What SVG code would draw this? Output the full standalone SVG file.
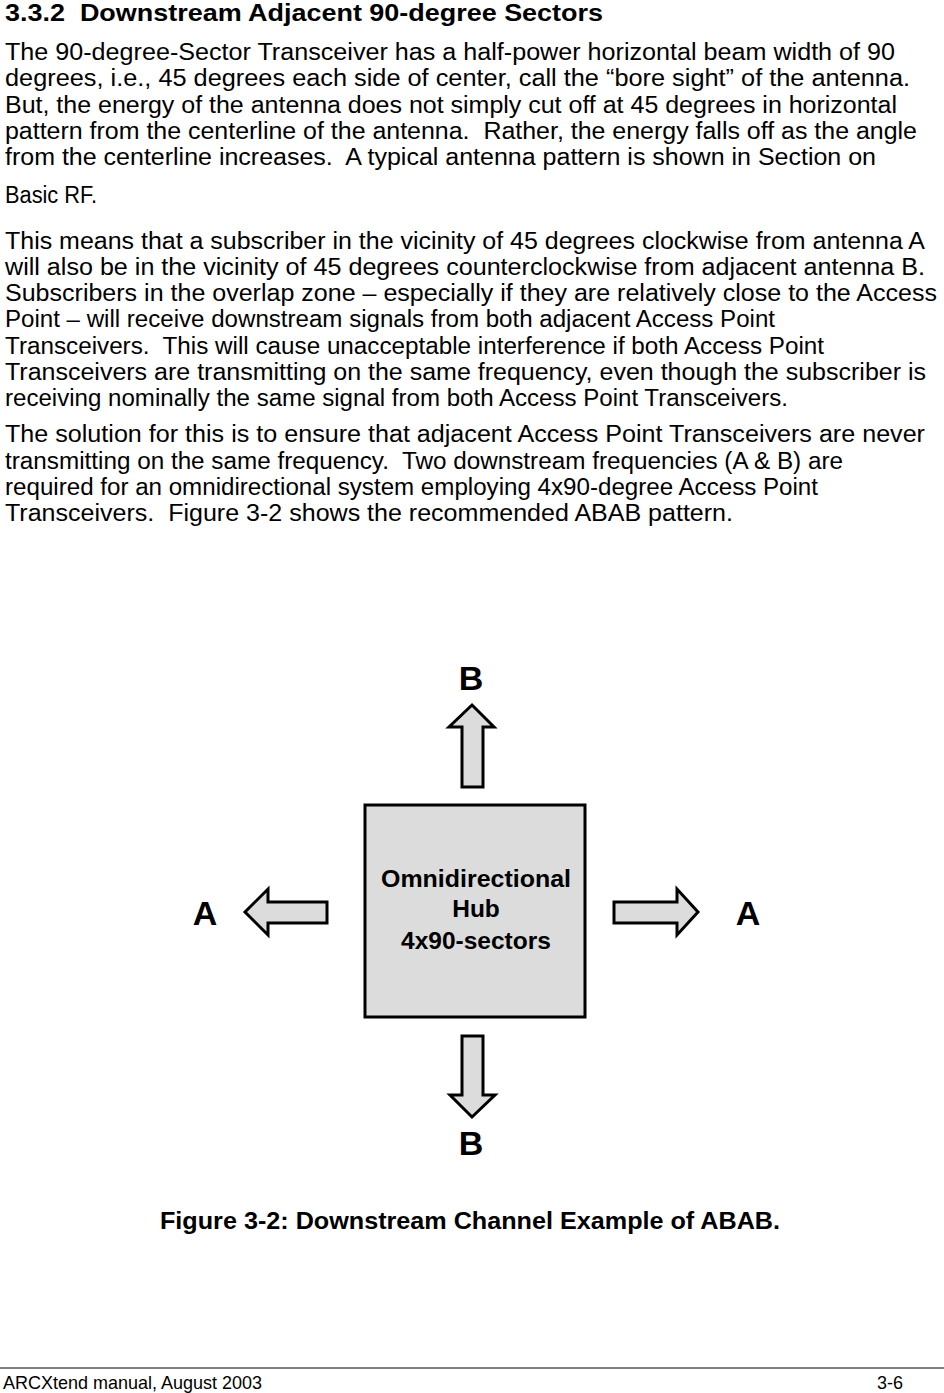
<svg xmlns="http://www.w3.org/2000/svg" width="944" height="1393" viewBox="0 0 944 1393">
<style>
text{white-space:pre}
.body{font-family:"Liberation Sans",Arial,sans-serif;font-size:23px;fill:#000}
.head{font-family:"Liberation Sans",Arial,sans-serif;font-size:24px;font-weight:bold;fill:#000}
.cap{font-family:"Liberation Sans",Arial,sans-serif;font-size:23px;font-weight:bold;fill:#000}
.hub{font-family:"Liberation Sans",Arial,sans-serif;font-size:24.5px;font-weight:bold;fill:#000;text-anchor:middle}
.lbl{font-family:"Liberation Sans",Arial,sans-serif;font-size:34px;font-weight:bold;fill:#000;text-anchor:middle}
.foot{font-family:"Liberation Sans",Arial,sans-serif;font-size:18.5px;fill:#000}
.arrow{fill:#dcdcdc;stroke:#000;stroke-width:3;stroke-linejoin:miter}
</style>
<rect width="944" height="1393" fill="#fff"/>
<g id="text">
<text class="head" x="5" y="21" textLength="598" lengthAdjust="spacingAndGlyphs">3.3.2  Downstream Adjacent 90-degree Sectors</text>
<text class="body" x="5" y="60" textLength="890" lengthAdjust="spacingAndGlyphs">The 90-degree-Sector Transceiver has a half-power horizontal beam width of 90</text>
<text class="body" x="5" y="86" textLength="905" lengthAdjust="spacingAndGlyphs">degrees, i.e., 45 degrees each side of center, call the “bore sight” of the antenna.</text>
<text class="body" x="5" y="113" textLength="892" lengthAdjust="spacingAndGlyphs">But, the energy of the antenna does not simply cut off at 45 degrees in horizontal</text>
<text class="body" x="5" y="139" textLength="912" lengthAdjust="spacingAndGlyphs">pattern from the centerline of the antenna.  Rather, the energy falls off as the angle</text>
<text class="body" x="5" y="165" textLength="871" lengthAdjust="spacingAndGlyphs">from the centerline increases.  A typical antenna pattern is shown in Section on</text>
<text class="body" x="5" y="203" textLength="92" lengthAdjust="spacingAndGlyphs">Basic RF.</text>
<text class="body" x="5" y="249" textLength="920" lengthAdjust="spacingAndGlyphs">This means that a subscriber in the vicinity of 45 degrees clockwise from antenna A</text>
<text class="body" x="5" y="275" textLength="920" lengthAdjust="spacingAndGlyphs">will also be in the vicinity of 45 degrees counterclockwise from adjacent antenna B.</text>
<text class="body" x="5" y="301" textLength="932" lengthAdjust="spacingAndGlyphs">Subscribers in the overlap zone – especially if they are relatively close to the Access</text>
<text class="body" x="5" y="327" textLength="770" lengthAdjust="spacingAndGlyphs">Point – will receive downstream signals from both adjacent Access Point</text>
<text class="body" x="5" y="354" textLength="819" lengthAdjust="spacingAndGlyphs">Transceivers.  This will cause unacceptable interference if both Access Point</text>
<text class="body" x="5" y="380" textLength="921" lengthAdjust="spacingAndGlyphs">Transceivers are transmitting on the same frequency, even though the subscriber is</text>
<text class="body" x="5" y="406" textLength="783" lengthAdjust="spacingAndGlyphs">receiving nominally the same signal from both Access Point Transceivers.</text>
<text class="body" x="5" y="442" textLength="920" lengthAdjust="spacingAndGlyphs">The solution for this is to ensure that adjacent Access Point Transceivers are never</text>
<text class="body" x="5" y="469" textLength="838" lengthAdjust="spacingAndGlyphs">transmitting on the same frequency.  Two downstream frequencies (A &amp; B) are</text>
<text class="body" x="5" y="495" textLength="813" lengthAdjust="spacingAndGlyphs">required for an omnidirectional system employing 4x90-degree Access Point</text>
<text class="body" x="5" y="521" textLength="728" lengthAdjust="spacingAndGlyphs">Transceivers.  Figure 3-2 shows the recommended ABAB pattern.</text>
</g>
<g id="hub">
<rect x="365" y="805" width="220" height="212" fill="#dcdcdc" stroke="#000" stroke-width="3"/>
<text class="hub" x="476" y="887" textLength="190" lengthAdjust="spacingAndGlyphs">Omnidirectional</text>
<text class="hub" x="476" y="917">Hub</text>
<text class="hub" x="476" y="949">4x90-sectors</text>
</g>
<g id="connectors">
<polygon class="arrow" points="472,705 494,727 483,727 483,787 462,787 462,727 449,727"/>
<polygon class="arrow" points="462,1036 483,1036 483,1095 495,1095 472,1117 450,1095 462,1095"/>
<polygon class="arrow" points="245,912 268,889 268,902 327,902 327,923 268,923 268,935"/>
<polygon class="arrow" points="614,902 677,902 677,889 698,912 677,935 677,923 614,923"/>
</g>
<g id="label-b-top"><text class="lbl" x="471" y="690">B</text></g>
<g id="label-a-left"><text class="lbl" x="205" y="925">A</text></g>
<g id="label-a-right"><text class="lbl" x="748" y="925">A</text></g>
<g id="label-b-bottom"><text class="lbl" x="471" y="1155">B</text></g>
<g id="caption">
<text class="cap" x="160" y="1229" textLength="620" lengthAdjust="spacingAndGlyphs">Figure 3-2: Downstream Channel Example of ABAB.</text>
</g>
<g id="footer">
<line x1="0" y1="1368" x2="944" y2="1368" stroke="#000" stroke-width="1"/>
<text class="foot" x="3" y="1389" textLength="259" lengthAdjust="spacingAndGlyphs">ARCXtend manual, August 2003</text>
<text class="foot" x="877" y="1389" textLength="26" lengthAdjust="spacingAndGlyphs">3-6</text>
</g>
</svg>
